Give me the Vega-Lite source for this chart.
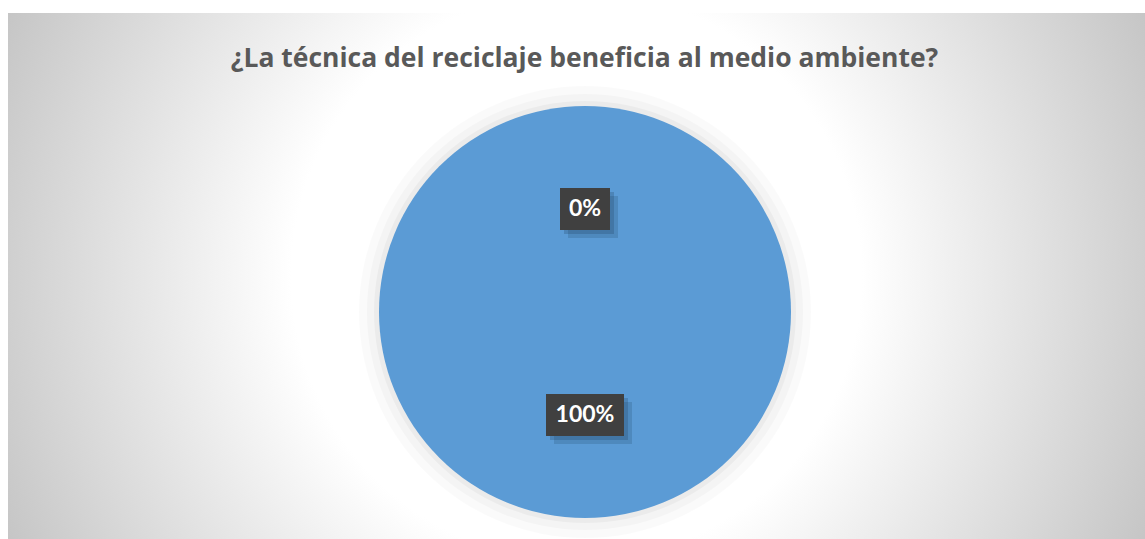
{
  "$schema": "https://vega.github.io/schema/vega-lite/v6.json",
  "width": 1145,
  "height": 539,
  "autosize": {"type": "fit", "contains": "padding"},
  "padding": {"left": 8, "top": 13, "right": 0, "bottom": 0},
  "background": "#ffffff",
  "config": {"view": {"stroke": "#bdbdbd", "strokeWidth": 1}},
  "title": {
    "text": "¿La técnica del reciclaje beneficia al medio ambiente?",
    "font": "Open Sans",
    "fontSize": 26.5,
    "fontWeight": "bold",
    "color": "#595959",
    "anchor": "middle",
    "dx": 8,
    "offset": -59
  },
  "data": {
    "values": [
      {"respuesta": "No", "valor": 0, "etiqueta": "0%"},
      {"respuesta": "Sí", "valor": 100, "etiqueta": "100%"}
    ]
  },
  "layer": [
    {
      "data": {"values": [{"fondo": 1}]},
      "mark": {
        "type": "rect",
        "fill": {
          "gradient": "radial",
          "x1": 0.5, "y1": 0.5, "r1": 0,
          "x2": 0.5, "y2": 0.5, "r2": 0.57,
          "stops": [
            {"offset": 0, "color": "#ffffff"},
            {"offset": 0.44, "color": "#ffffff"},
            {"offset": 1, "color": "#c2c2c2"}
          ]
        }
      },
      "encoding": {}
    },
    {
      "mark": {"type": "arc", "radius": 226, "fill": "#000000", "opacity": 0.02, "xOffset": 8.5, "yOffset": 36},
      "encoding": {"theta": {"field": "valor", "type": "quantitative", "stack": true}}
    },
    {
      "mark": {"type": "arc", "radius": 218, "fill": "#000000", "opacity": 0.025, "xOffset": 8.5, "yOffset": 36},
      "encoding": {"theta": {"field": "valor", "type": "quantitative", "stack": true}}
    },
    {
      "mark": {"type": "arc", "radius": 211, "fill": "#000000", "opacity": 0.035, "xOffset": 8.5, "yOffset": 36},
      "encoding": {"theta": {"field": "valor", "type": "quantitative", "stack": true}}
    },
    {
      "mark": {"type": "arc", "radius": 206, "fill": "#5B9BD5", "stroke": null, "xOffset": 8.5, "yOffset": 36},
      "encoding": {"theta": {"field": "valor", "type": "quantitative", "stack": true}}
    },
    {
      "mark": {"type": "point", "filled": true, "size": 2500, "color": "#1f3f5f", "opacity": 0.2, "xOffset": 16.5, "yOffset": 8},
      "encoding": {
        "y": {"field": "etiqueta", "type": "nominal", "scale": {"type": "point", "domain": ["0%", "100%"], "range": [196, 402], "padding": 0}, "axis": null},
        "shape": {"field": "etiqueta", "type": "nominal", "scale": {"domain": ["0%", "100%"], "range": ["M-1,-0.84H1V0.84H-1Z", "M-1.56,-0.84H1.56V0.84H-1.56Z"]}, "legend": null}
      }
    },
    {
      "mark": {"type": "point", "filled": true, "size": 2500, "color": "#1f3f5f", "opacity": 0.25, "xOffset": 12.5, "yOffset": 4},
      "encoding": {
        "y": {"field": "etiqueta", "type": "nominal"},
        "shape": {"field": "etiqueta", "type": "nominal"}
      }
    },
    {
      "mark": {"type": "point", "filled": true, "size": 2500, "color": "#404040", "opacity": 1, "xOffset": 8.5},
      "encoding": {
        "y": {"field": "etiqueta", "type": "nominal"},
        "shape": {"field": "etiqueta", "type": "nominal"}
      }
    },
    {
      "mark": {"type": "text", "font": "Lato", "fontSize": 23, "fontWeight": "bold", "color": "#ffffff", "baseline": "middle", "align": "center", "xOffset": 8.5},
      "encoding": {
        "y": {"field": "etiqueta", "type": "nominal"},
        "text": {"field": "etiqueta", "type": "nominal"}
      }
    }
  ]
}
